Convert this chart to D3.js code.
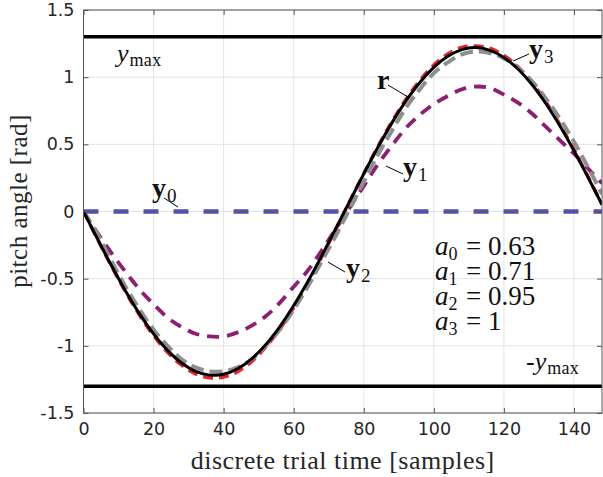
<!DOCTYPE html>
<html><head><meta charset="utf-8">
<script src="https://cdn.jsdelivr.net/npm/d3@7"></script>
<style>body{margin:0;background:#fff}svg{display:block}</style>
</head><body>
<svg id="c" width="603" height="477"></svg>
<script>
const samples = [0,4,8,12,16,20,24,28,32,36,40,44,48,52,56,60,64,68,72,76,80,84,88,92,96,100,104,108,112,116,120,124,128,132,136,140,144,148];
const rRef = [0,-0.205,-0.404,-0.591,-0.762,-0.911,-1.034,-1.128,-1.190,-1.218,-1.212,-1.171,-1.097,-0.991,-0.858,-0.700,-0.523,-0.330,-0.128,0.077,0.280,0.476,0.658,0.821,0.960,1.073,1.155,1.205,1.220,1.200,1.147,1.061,0.945,0.802,0.636,0.452,0.255,0.051];
const y0 = [0,0,0,0,0,0,0,0,0,0,0,0,0,0,0,0,0,0,0,0,0,0,0,0,0,0,0,0,0,0,0,0,0,0,0,0,0,0];
const y1 = [0,-0.16,-0.31,-0.45,-0.58,-0.69,-0.79,-0.86,-0.91,-0.93,-0.93,-0.90,-0.85,-0.78,-0.68,-0.56,-0.44,-0.29,-0.13,0.03,0.19,0.35,0.49,0.62,0.72,0.80,0.86,0.91,0.93,0.92,0.87,0.81,0.73,0.63,0.53,0.43,0.32,0.21];
const y2 = [0,-0.17,-0.37,-0.56,-0.73,-0.88,-1.00,-1.10,-1.16,-1.19,-1.19,-1.16,-1.10,-1.00,-0.88,-0.73,-0.56,-0.37,-0.18,0.02,0.22,0.42,0.60,0.77,0.91,1.03,1.11,1.17,1.19,1.18,1.14,1.07,0.97,0.84,0.69,0.52,0.33,0.13];
const y3 = [0,-0.206,-0.408,-0.598,-0.772,-0.923,-1.048,-1.144,-1.208,-1.238,-1.233,-1.192,-1.117,-1.010,-0.875,-0.715,-0.535,-0.338,-0.132,0.077,0.283,0.482,0.667,0.833,0.975,1.090,1.173,1.222,1.232,1.215,1.162,1.077,0.960,0.815,0.647,0.460,0.260,0.053];
const yMax = 1.3;
const xTicks = [0,20,40,60,80,100,120,140];
const yTicks = [-1.5,-1,-0.5,0,0.5,1,1.5];
const gainIdx = ["0","1","2","3"];
const gainVal = ["0.63","0.71","0.95","1"];

const svg = d3.select("#c");
const L = 83.5, R = 602, T = 10, B = 413;
const x = d3.scaleLinear().domain([0,148]).range([L,R]);
const y = d3.scaleLinear().domain([-1.5,1.5]).range([B,T]);

// grid
const g = svg.append("g");
g.selectAll(".gx").data(xTicks).join("line").attr("x1",d=>x(d)).attr("x2",d=>x(d)).attr("y1",T).attr("y2",B).attr("stroke","#e3e3e3").attr("stroke-width",1);
g.selectAll(".gy").data(yTicks).join("line").attr("y1",d=>y(d)).attr("y2",d=>y(d)).attr("x1",L).attr("x2",R).attr("stroke","#e3e3e3").attr("stroke-width",1);

svg.append("clipPath").attr("id","cp").append("rect").attr("x",L).attr("y",T).attr("width",R-L).attr("height",B-T);
const plot = svg.append("g").attr("clip-path","url(#cp)");

// ymax lines
[yMax,-yMax].forEach(v=>{
  plot.append("line").attr("x1",L).attr("x2",R).attr("y1",y(v)).attr("y2",y(v)).attr("stroke","#000").attr("stroke-width",3.5);
});

const line = d3.line().x((d,i)=>x(samples[i])).y(d=>y(d)).curve(d3.curveCatmullRom.alpha(0.5));
const series = [
  {v:y0, c:"#5353a3", w:4.5, dash:"15,15"},
  {v:y1, c:"#8c1f72", w:3.8, dash:"12,8"},
  {v:y3, c:"#e8222c", w:3.5, dash:"10,6"},
  {v:y2, c:"#8e8e8e", w:4, dash:"13,6"},
  {v:rRef, c:"#000", w:3, dash:null}
];
series.forEach(s=>{
  const p = plot.append("path").attr("d",line(s.v)).attr("fill","none").attr("stroke",s.c).attr("stroke-width",s.w);
  if(s.dash) p.attr("stroke-dasharray",s.dash);
});

// axes box
const axC = "#555";
svg.append("rect").attr("x",L).attr("y",T).attr("width",R-L).attr("height",B-T).attr("fill","none").attr("stroke",axC).attr("stroke-width",1);
const fmt = d=>String(d);
const ax = svg.append("g").attr("transform",`translate(0,${B})`).call(d3.axisBottom(x).tickValues(xTicks).tickSize(-5).tickPadding(10).tickFormat(fmt));
const axT = svg.append("g").attr("transform",`translate(0,${T})`).call(d3.axisTop(x).tickValues(xTicks).tickSize(-5).tickFormat(""));
const ay = svg.append("g").attr("transform",`translate(${L},0)`).call(d3.axisLeft(y).tickValues(yTicks).tickSize(-5).tickPadding(9).tickFormat(fmt));
const ayR = svg.append("g").attr("transform",`translate(${R},0)`).call(d3.axisRight(y).tickValues(yTicks).tickSize(-5).tickFormat(""));
[ax,axT,ay,ayR].forEach(a=>{
  a.select(".domain").remove();
  a.selectAll(".tick line").attr("stroke",axC);
  a.selectAll("text").attr("fill","#262626").style("font-family","'DejaVu Sans', sans-serif").style("font-size","17.5px");
});

const serif = "'Liberation Serif', 'DejaVu Serif', serif";
svg.append("text").attr("x",(L+R)/2).attr("y",469).attr("text-anchor","middle").style("font-family",serif).style("font-size","26px").style("letter-spacing","0.5px").attr("fill","#262626").text("discrete trial time [samples]");
svg.append("text").attr("transform",`translate(27,201) rotate(-90)`).attr("text-anchor","middle").style("font-family",serif).style("font-size","25px").style("letter-spacing","0.5px").attr("fill","#262626").text("pitch angle [rad]");

// math labels
function ymaxLabel(xp, yp, neg){
  const t = svg.append("text").attr("x",xp).attr("y",yp).style("font-family",serif).style("font-size","26px").attr("fill","#111");
  if(neg) t.append("tspan").text("-");
  t.append("tspan").style("font-style","italic").text("y");
  t.append("tspan").attr("dy",4).attr("dx",1).style("font-size","18px").style("letter-spacing","0.3px").text("max");
}
ymaxLabel(117, y(1.11), false);
ymaxLabel(526, y(-1.18), true);

function vecLabel(xp, yp, sub, lx1, ly1, lx2, ly2){
  svg.append("line").attr("x1",lx1).attr("y1",ly1).attr("x2",lx2).attr("y2",ly2).attr("stroke","#000").attr("stroke-width",1);
  const t = svg.append("text").attr("x",xp).attr("y",yp).style("font-family",serif).style("font-size","28px").attr("fill","#111");
  t.append("tspan").style("font-weight","bold").text(sub===null?"r":"y");
  if(sub!==null) t.append("tspan").attr("dy",5).attr("dx",1).style("font-size","19px").text(sub);
}
vecLabel(377, 89, null, 388, 85, 408, 97);
vecLabel(529, 58, "3", 513, 61, 529, 54);
vecLabel(403, 176, "1", 386, 166, 403, 174);
vecLabel(152, 197, "0", 164, 198, 178, 207);
vecLabel(346, 277, "2", 328, 262, 345, 272);

// gains box
gainIdx.forEach((k,i)=>{
  const yb = 255+i*25;
  const t = svg.append("text").attr("x",435).attr("y",yb).style("font-family",serif).style("font-size","27px").attr("fill","#111");
  t.append("tspan").style("font-style","italic").text("a");
  t.append("tspan").attr("dy",5).style("font-size","18px").text(k);
  svg.append("text").attr("x",466).attr("y",yb).style("font-family",serif).style("font-size","27px").attr("fill","#111").text("= " + gainVal[i]);
});
</script>
</body></html>
